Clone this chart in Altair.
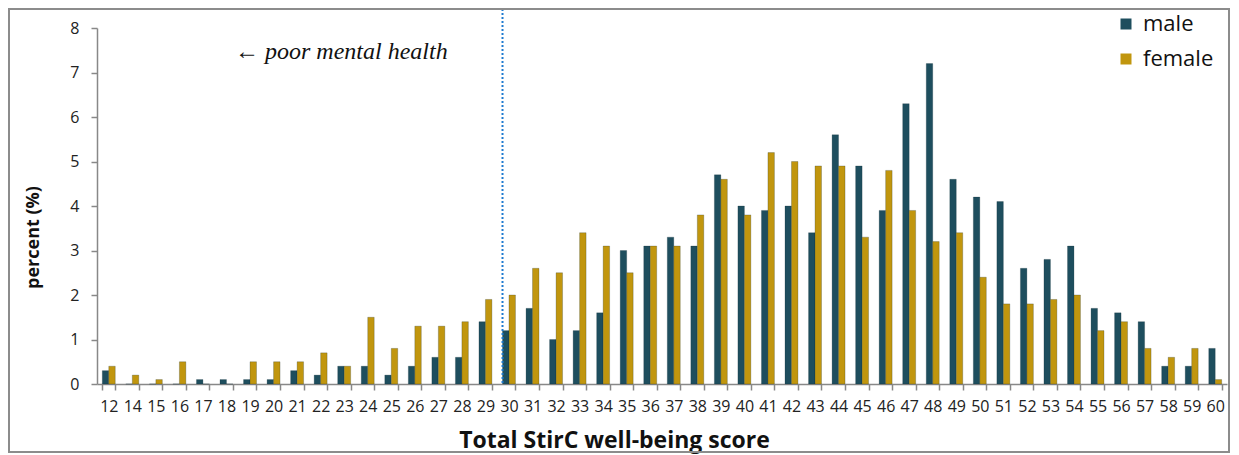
import altair as alt
import pandas as pd

scores = [12, 14, 15, 16, 17, 18, 19, 20, 21, 22, 23, 24, 25, 26, 27, 28, 29, 30,
          31, 32, 33, 34, 35, 36, 37, 38, 39, 40, 41, 42, 43, 44, 45, 46, 47, 48,
          49, 50, 51, 52, 53, 54, 55, 56, 57, 58, 59, 60]
male = [0.3, 0.0, 0.0, 0.0, 0.1, 0.1, 0.1, 0.1, 0.3, 0.2, 0.4, 0.4, 0.2, 0.4, 0.6, 0.6, 1.4, 1.2,
        1.7, 1.0, 1.2, 1.6, 3.0, 3.1, 3.3, 3.1, 4.7, 4.0, 3.9, 4.0, 3.4, 5.6, 4.9, 3.9, 6.3, 7.2,
        4.6, 4.2, 4.1, 2.6, 2.8, 3.1, 1.7, 1.6, 1.4, 0.4, 0.4, 0.8]
female = [0.4, 0.2, 0.1, 0.5, 0.0, 0.0, 0.5, 0.5, 0.5, 0.7, 0.4, 1.5, 0.8, 1.3, 1.3, 1.4, 1.9, 2.0,
          2.6, 2.5, 3.4, 3.1, 2.5, 3.1, 3.1, 3.8, 4.6, 3.8, 5.2, 5.0, 4.9, 4.9, 3.3, 4.8, 3.9, 3.2,
          3.4, 2.4, 1.8, 1.8, 1.9, 2.0, 1.2, 1.4, 0.8, 0.6, 0.8, 0.1]
series = ["male", "female"]
colors = ["#1E4E5E", "#C1960E"]
y_ticks = [0, 1, 2, 3, 4, 5, 6, 7, 8]
cutoff = 30

rows = []
for s, m, f in zip(scores, male, female):
    rows.append({"score": s, "sex": "male", "pct": m})
    rows.append({"score": s, "sex": "female", "pct": f})
df = pd.DataFrame(rows)

W, H = 1130, 356

bars = alt.Chart(df).mark_bar(stroke="#0f2a33", strokeWidth=0.4, strokeOpacity=0.6).encode(
    x=alt.X("score:O", sort=scores,
            scale=alt.Scale(paddingInner=0.45, paddingOuter=0.225),
            axis=alt.Axis(title="Total StirC well-being score", labelAngle=0,
                          labelFont="Liberation Sans Narrow, Open Sans", labelFontSize=16,
                          labelColor="#222", labelPadding=8,
                          tickSize=6, tickColor="#888", tickWidth=1.5, tickBand="extent",
                          domainColor="#888", domainWidth=1.5,
                          titleFont="Open Sans", titleFontSize=23, titleFontWeight="bold",
                          titleColor="#111", titleX=517, titleY=56,
                          titleBaseline="middle", titleAlign="center")),
    xOffset=alt.XOffset("sex:N", sort=series, scale=alt.Scale(paddingInner=0, paddingOuter=0)),
    y=alt.Y("pct:Q", scale=alt.Scale(domain=[0, 8], nice=False),
            axis=alt.Axis(values=y_ticks, title="percent (%)", grid=False,
                          labelFont="Open Sans", labelFontSize=16, labelColor="#222",
                          labelPadding=12, tickSize=6, tickColor="#888", tickWidth=1.5,
                          domainColor="#888", domainWidth=1.5,
                          titleFont="Open Sans", titleFontSize=18, titleFontWeight="bold",
                          titleColor="#111", titleX=-55, titleY=209)),
    color=alt.Color("sex:N", sort=series,
                    scale=alt.Scale(domain=series, range=colors),
                    legend=alt.Legend(title=None, orient="none", legendX=1018, legendY=-15,
                                      labelFont="Open Sans", labelFontSize=22,
                                      labelColor="#111", symbolType="square",
                                      symbolSize=121, symbolStrokeWidth=0,
                                      rowPadding=13, labelOffset=6)),
)

cut = alt.Chart(pd.DataFrame({"score": [cutoff]})).mark_rule(
    color="#1F7BD0", strokeWidth=2, strokeDash=[2, 2]
).encode(
    x=alt.X("score:O", sort=scores, bandPosition=0),
    y=alt.value(-19),
    y2=alt.value(H),
)

note = alt.Chart(pd.DataFrame({"t": ["\u2190 poor mental health"]})).mark_text(
    font="Liberation Serif", fontStyle="italic", fontSize=24, align="left",
    baseline="middle", color="#111"
).encode(text="t:N", x=alt.value(138), y=alt.value(24))

frame = alt.Chart(pd.DataFrame({"a": [0]})).mark_rect(
    fill=None, stroke="#8c8c8c", strokeWidth=2
).encode(x=alt.value(-88), x2=alt.value(1132), y=alt.value(-19), y2=alt.value(424))

chart = alt.layer(bars, cut, note, frame).properties(
    width=W, height=H,
    autosize=alt.AutoSizeParams(type="none"),
    padding={"left": 89, "top": 20, "right": 4, "bottom": 71},
).configure_view(stroke=None)

chart.save("out.html", embed_options={"renderer": "svg", "actions": False})
